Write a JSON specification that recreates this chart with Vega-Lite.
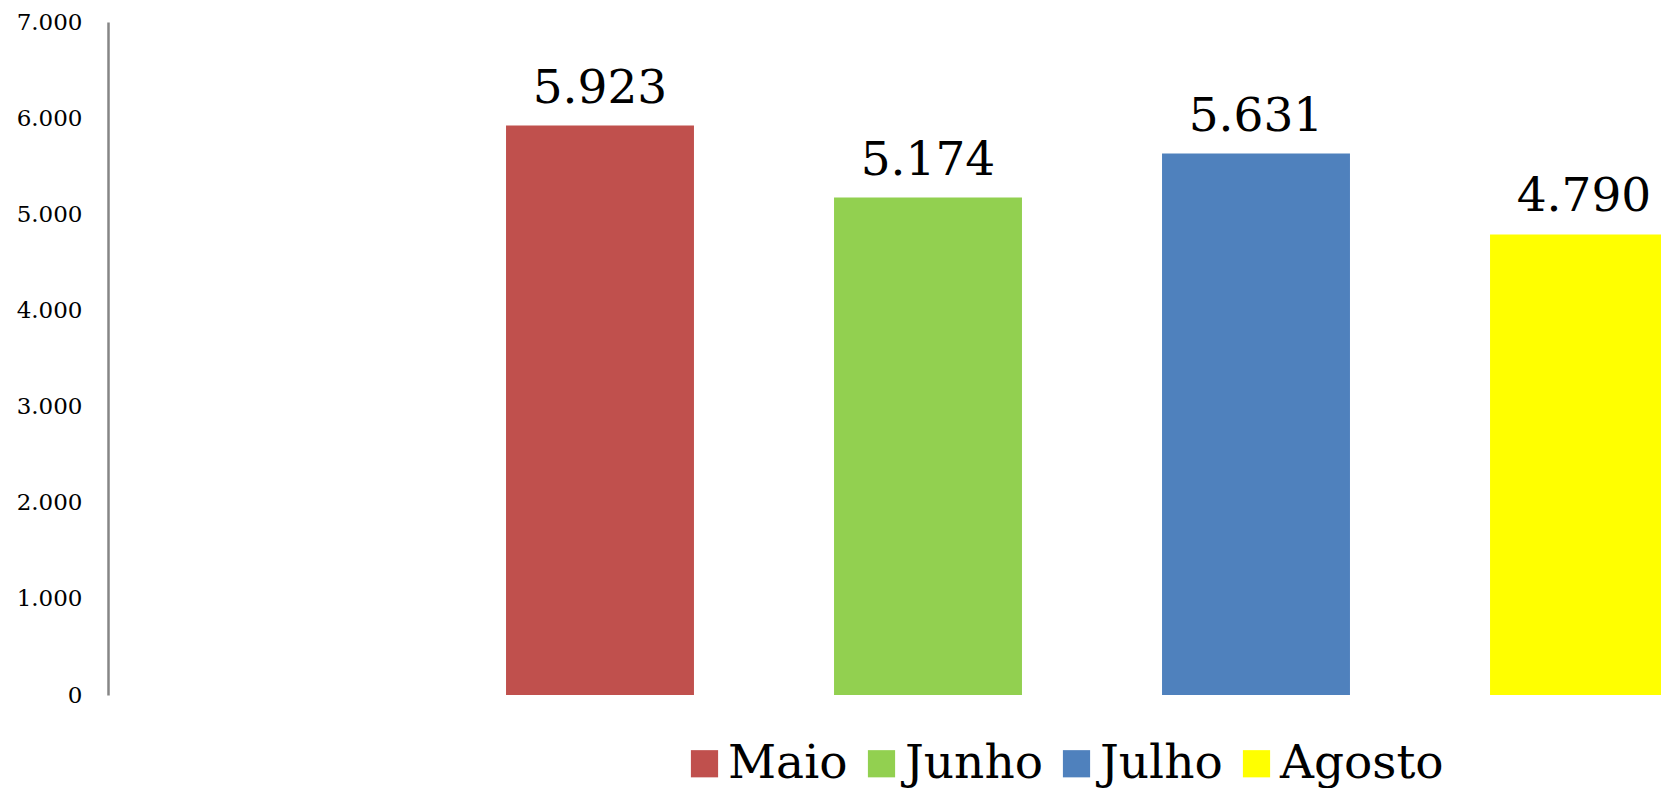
{
  "$schema": "https://vega.github.io/schema/vega-lite/v6.json",
  "autosize": {"type": "none"},
  "padding": {"left": 108, "top": 22, "right": 0, "bottom": 93},
  "width": 1553,
  "height": 673,
  "background": "white",
  "data": {
    "values": [
      {"mes": "Maio", "valor": 5923},
      {"mes": "Junho", "valor": 5174},
      {"mes": "Julho", "valor": 5631},
      {"mes": "Agosto", "valor": 4790}
    ]
  },
  "encoding": {
    "x": {
      "field": "mes",
      "type": "nominal",
      "sort": ["Maio", "Junho", "Julho", "Agosto"],
      "scale": {"range": [328, 1640], "paddingInner": 0.427, "paddingOuter": 0.2135},
      "axis": null
    },
    "y": {
      "field": "valor",
      "type": "quantitative",
      "scale": {"domain": [0, 7000], "nice": false},
      "axis": {
        "title": null,
        "values": [0, 1000, 2000, 3000, 4000, 5000, 6000, 7000],
        "format": ",d",
        "grid": false,
        "ticks": false,
        "domainColor": "#868686",
        "domainWidth": 2.5,
        "labelFont": "DejaVu Serif",
        "labelFontSize": 23,
        "labelColor": "#000000",
        "labelPadding": 26
      }
    }
  },
  "layer": [
    {
      "mark": {"type": "bar", "clip": true},
      "encoding": {
        "color": {
          "field": "mes",
          "type": "nominal",
          "scale": {
            "domain": ["Maio", "Junho", "Julho", "Agosto"],
            "range": ["#C0504D", "#92D050", "#4F81BD", "#FFFF00"]
          },
          "legend": {
            "title": null,
            "orient": "none",
            "legendX": 573,
            "legendY": 718,
            "direction": "horizontal",
            "padding": 0,
            "symbolType": "square",
            "symbolSize": 740,
            "symbolStrokeWidth": 0,
            "symbolOpacity": 1,
            "labelFont": "DejaVu Serif",
            "labelFontSize": 47,
            "labelColor": "#000000",
            "labelOffset": 0,
            "columnPadding": 10,
            "labelLimit": 400
          }
        }
      }
    },
    {
      "mark": {
        "type": "text",
        "font": "DejaVu Serif",
        "fontSize": 47,
        "color": "#000000",
        "baseline": "alphabetic",
        "dy": -23
      },
      "encoding": {
        "text": {"field": "valor", "type": "quantitative", "format": ",d"}
      }
    }
  ],
  "config": {
    "view": {"stroke": null},
    "locale": {
      "number": {"decimal": ",", "thousands": ".", "grouping": [3], "currency": ["R$", ""]}
    }
  }
}
